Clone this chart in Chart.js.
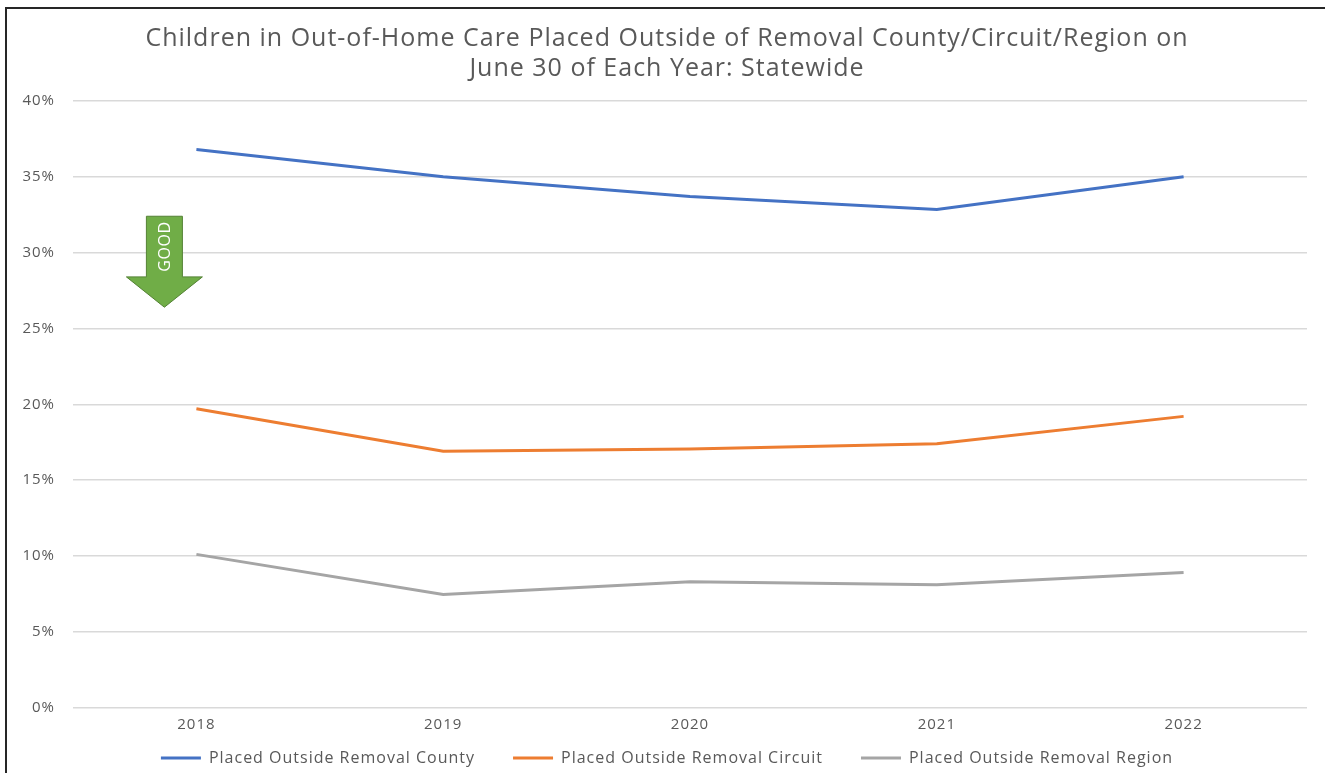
<!DOCTYPE html>
<html>
<head>
<meta charset="utf-8">
<script src="https://cdn.jsdelivr.net/npm/chart.js@4"></script>
<style>
  html, body { margin: 0; padding: 0; background: #fff; }
  #wrap { position: relative; width: 1325px; height: 773px; }
</style>
</head>
<body>
<div id="wrap"><canvas id="c" width="1325" height="773"></canvas></div>
<script>
// Placement shares as of June 30 each year (percent)
const years = ['2018', '2019', '2020', '2021', '2022'];
const outsideCounty = [36.8, 35.0, 33.7, 32.85, 35.0];
const outsideCircuit = [19.7, 16.9, 17.05, 17.4, 19.2];
const outsideRegion = [10.1, 7.45, 8.3, 8.1, 8.9];
const titleLines = ['Children in Out-of-Home Care Placed Outside of Removal County/Circuit/Region on', 'June 30 of Each Year: Statewide'];

const FONT = "'Open Sans', 'Liberation Sans', sans-serif";
const TEXT = '#595959';

// Slightly wider letter spacing for all canvas text
const spacingPlugin = {
  id: 'spacing',
  beforeUpdate(chart) { chart.ctx.letterSpacing = '1px'; },
  beforeDraw(chart) { chart.ctx.letterSpacing = '1px'; }
};

// Axis boxes are kept tight for the layout; widen them afterwards so
// the tick labels are not clipped at their edges.
const labelRoomPlugin = {
  id: 'labelRoom',
  afterLayout(chart) {
    const { x, y } = chart.scales;
    x.bottom = x.top + 32;
    y.left = 0;
  }
};

// Frame lines along the top and left edges
const framePlugin = {
  id: 'frame',
  afterDraw(chart) {
    const ctx = chart.ctx;
    ctx.save();
    ctx.strokeStyle = '#262626';
    ctx.lineWidth = 2;
    ctx.beginPath();
    ctx.moveTo(6, 773);
    ctx.lineTo(6, 8);
    ctx.lineTo(1325, 8);
    ctx.stroke();
    ctx.restore();
  }
};

// Green "GOOD" arrow pointing down, positioned relative to the scales
const arrowPlugin = {
  id: 'goodArrow',
  afterDatasetsDraw(chart) {
    const { ctx, scales } = chart;
    const x0 = scales.x.getPixelForValue(0);
    const cx = x0 - 32;
    const yTop = scales.y.getPixelForValue(32.4);
    const yNeck = scales.y.getPixelForValue(28.4);
    const yTip = scales.y.getPixelForValue(26.4);
    const shaft = 18, head = 38;
    ctx.save();
    ctx.beginPath();
    ctx.moveTo(cx - shaft, yTop);
    ctx.lineTo(cx + shaft, yTop);
    ctx.lineTo(cx + shaft, yNeck);
    ctx.lineTo(cx + head, yNeck);
    ctx.lineTo(cx, yTip);
    ctx.lineTo(cx - head, yNeck);
    ctx.lineTo(cx - shaft, yNeck);
    ctx.closePath();
    ctx.fillStyle = '#70AD47';
    ctx.fill();
    ctx.strokeStyle = '#548235';
    ctx.lineWidth = 1;
    ctx.stroke();
    ctx.translate(cx, (yTop + yNeck) / 2);
    ctx.rotate(-Math.PI / 2);
    ctx.fillStyle = '#ffffff';
    ctx.font = "16px " + FONT;
    ctx.letterSpacing = '0.5px';
    ctx.textAlign = 'center';
    ctx.textBaseline = 'middle';
    ctx.fillText('GOOD', 0, 1);
    ctx.restore();
  }
};

const mk = (label, data, color) => ({
  label, data,
  borderColor: color,
  backgroundColor: color,
  borderWidth: 3,
  pointRadius: 0,
  pointHoverRadius: 0,
  tension: 0,
  fill: false
});

new Chart(document.getElementById('c'), {
  type: 'line',
  data: {
    labels: years,
    datasets: [
      mk('Placed Outside Removal County', outsideCounty, '#4472C4'),
      mk('Placed Outside Removal Circuit', outsideCircuit, '#ED7D31'),
      mk('Placed Outside Removal Region', outsideRegion, '#A5A5A5')
    ]
  },
  options: {
    responsive: false,
    animation: false,
    layout: { padding: { left: 27, right: 18, top: 20, bottom: -3 } },
    plugins: {
      title: {
        display: true,
        text: titleLines,
        color: TEXT,
        font: { family: FONT, size: 25, weight: 'normal', lineHeight: 1.2 },
        padding: { top: 4, bottom: 17 }
      },
      legend: {
        position: 'bottom',
        labels: {
          color: TEXT,
          font: { family: FONT, size: 16 },
          usePointStyle: true,
          pointStyle: 'line',
          pointStyleWidth: 40,
          boxHeight: 3,
          padding: 38
        }
      },
      tooltip: { enabled: false }
    },
    scales: {
      x: {
        offset: true,
        grid: { display: false, drawTicks: false },
        border: { display: false },
        ticks: { color: TEXT, font: { family: FONT, size: 15 }, padding: 8 },
        afterFit(s) { s.height = 4.5; }
      },
      y: {
        min: 0, max: 40,
        grid: { color: '#D9D9D9', lineWidth: 1.5, drawTicks: false },
        border: { display: false },
        ticks: {
          stepSize: 5,
          color: TEXT,
          font: { family: FONT, size: 15 },
          padding: 18,
          callback: v => v + '%'
        },
        afterFit(s) { s.width = 46; }
      }
    }
  },
  plugins: [spacingPlugin, labelRoomPlugin, framePlugin, arrowPlugin]
});
</script>
</body>
</html>
